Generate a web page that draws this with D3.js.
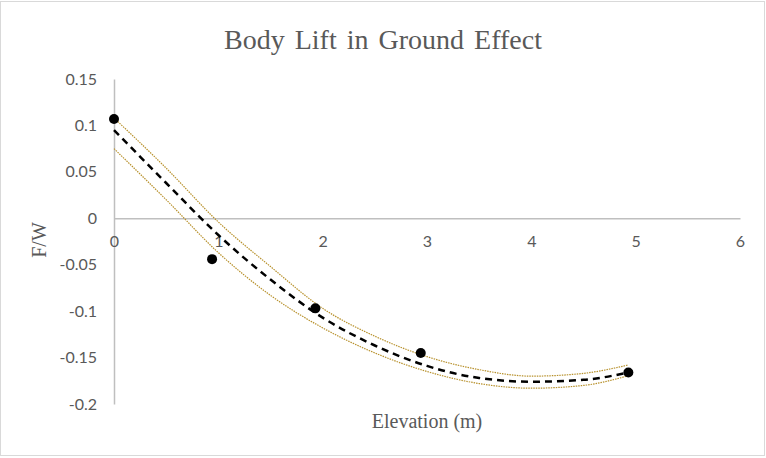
<!DOCTYPE html>
<html>
<head>
<meta charset="utf-8">
<script src="https://cdn.jsdelivr.net/npm/d3@7"></script>
<style>
  body { margin: 0; background: #fff; }
  svg { display: block; }
</style>
</head>
<body>
<div id="chart"></div>
<script>
// measured points
const elevation = [0, 0.94, 1.93, 2.94, 4.93];
const liftRatio = [0.107, -0.044, -0.097, -0.145, -0.166];

// trend line + the two dotted bands
const curveX = [0, 0.5, 1, 1.5, 2, 2.5, 3, 3.5, 4, 4.5, 4.93];
const trendY = [0.095, 0.038, -0.018, -0.066, -0.107, -0.137, -0.159, -0.172, -0.176, -0.174, -0.166];
const upperY = [0.108, 0.054, -0.004, -0.052, -0.097, -0.127, -0.149, -0.163, -0.170, -0.167, -0.158];
const lowerY = [0.075, 0.020, -0.037, -0.083, -0.118, -0.145, -0.165, -0.178, -0.183, -0.180, -0.1695];

const xTicks = [0, 1, 2, 3, 4, 5, 6];
const yTicks = [0.15, 0.1, 0.05, 0, -0.05, -0.1, -0.15, -0.2];

const width = 766,
  height = 458;
const plot = { left: 114, right: 740, top: 79, bottom: 404 };

const svg = d3
  .select("#chart")
  .append("svg")
  .attr("width", width)
  .attr("height", height);

// chart border
svg
  .append("rect")
  .attr("x", 0.5)
  .attr("y", 1.5)
  .attr("width", width - 2)
  .attr("height", height - 4)
  .attr("fill", "#fff")
  .attr("stroke", "#d9d9d9");

const x = d3.scaleLinear().domain([0, 6]).range([plot.left, plot.right]);
const y = d3.scaleLinear().domain([-0.2, 0.15]).range([plot.bottom, plot.top]);

// plain number format, hyphen for minus like Excel
const fmt = (d) => String(+d.toFixed(2));

// title
svg
  .append("text")
  .attr("x", 383)
  .attr("y", 49)
  .attr("text-anchor", "middle")
  .style("font-family", "'Liberation Serif', 'Times New Roman', serif")
  .style("font-size", "28px")
  .style("word-spacing", "3px")
  .style("fill", "#595959")
  .text("Body Lift in Ground Effect");

// y axis (no ticks, just the line and labels)
const yAxis = svg
  .append("g")
  .attr("transform", `translate(${x(0)},0)`)
  .call(d3.axisLeft(y).tickValues(yTicks).tickSize(0).tickPadding(17).tickFormat(fmt));
yAxis.select(".domain").attr("stroke", "#bfbfbf").attr("stroke-width", 1.5);
yAxis
  .selectAll("text")
  .style("font-family", "Lato, 'Liberation Sans', sans-serif")
  .style("font-size", "16px")
  .style("fill", "#595959");

// x axis sits on y = 0
const xAxis = svg
  .append("g")
  .attr("transform", `translate(0,${y(0)})`)
  .call(d3.axisBottom(x).tickValues(xTicks).tickSize(0).tickPadding(17).tickFormat(fmt));
xAxis.select(".domain").attr("stroke", "#bfbfbf").attr("stroke-width", 1.5);
xAxis
  .selectAll("text")
  .style("font-family", "Lato, 'Liberation Sans', sans-serif")
  .style("font-size", "16px")
  .style("fill", "#595959");

// axis titles
svg
  .append("text")
  .attr("x", 427)
  .attr("y", 428)
  .attr("text-anchor", "middle")
  .style("font-family", "'Liberation Serif', 'Times New Roman', serif")
  .style("font-size", "20px")
  .style("fill", "#595959")
  .text("Elevation (m)");

svg
  .append("text")
  .attr("transform", "translate(46,240) rotate(-90)")
  .attr("text-anchor", "middle")
  .style("font-family", "'Liberation Serif', 'Times New Roman', serif")
  .style("font-size", "20px")
  .style("fill", "#595959")
  .text("F/W");

// curves
const line = d3
  .line()
  .x((d) => x(d[0]))
  .y((d) => y(d[1]))
  .curve(d3.curveMonotoneX);

[upperY, lowerY].forEach((band) => {
  svg
    .append("path")
    .datum(curveX.map((v, i) => [v, band[i]]))
    .attr("d", line)
    .attr("fill", "none")
    .attr("stroke", "#b8922e")
    .attr("stroke-width", 1.2)
    .attr("stroke-dasharray", "1.5,1");
});

svg
  .append("path")
  .datum(curveX.map((v, i) => [v, trendY[i]]))
  .attr("d", line)
  .attr("fill", "none")
  .attr("stroke", "#000")
  .attr("stroke-width", 2.5)
  .attr("stroke-dasharray", "7,5");

// points
svg
  .selectAll(".pt")
  .data(elevation.map((v, i) => [v, liftRatio[i]]))
  .enter()
  .append("circle")
  .attr("class", "pt")
  .attr("cx", (d) => x(d[0]))
  .attr("cy", (d) => y(d[1]))
  .attr("r", 5)
  .attr("fill", "#000");
</script>
</body>
</html>
